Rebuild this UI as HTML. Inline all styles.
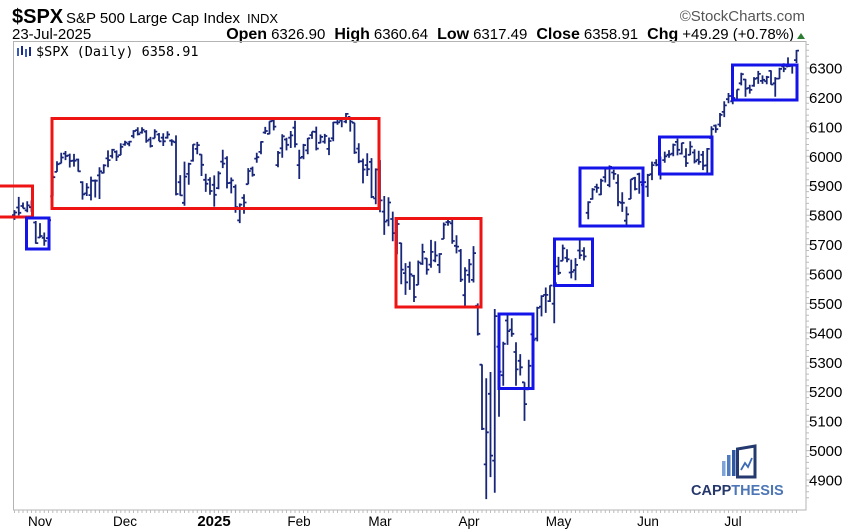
<!DOCTYPE html>
<html><head><meta charset="utf-8"><style>
html,body{margin:0;padding:0;background:#fff;}
svg{display:block;font-family:"Liberation Sans",Arial,sans-serif;}
</style></head><body>
<svg id="c" width="850" height="530" viewBox="0 0 850 530" xmlns="http://www.w3.org/2000/svg">
<rect width="850" height="530" fill="#fff"/>
<!-- header -->
<text x="12" y="23" font-size="20" font-weight="bold" fill="#000">$SPX</text>
<text x="66" y="23" font-size="15" fill="#000">S&amp;P 500 Large Cap Index</text>
<text x="247" y="23" font-size="13" fill="#000">INDX</text>
<text x="805" y="21" font-size="15" fill="#555" text-anchor="end">©StockCharts.com</text>
<text x="12" y="39" font-size="15" fill="#000">23-Jul-2025</text>
<text x="794" y="39" text-anchor="end" fill="#000"><tspan font-size="16" font-weight="bold">Open</tspan><tspan font-size="15" dx="4">6326.90</tspan><tspan font-size="16" font-weight="bold" dx="9">High</tspan><tspan font-size="15" dx="4">6360.64</tspan><tspan font-size="16" font-weight="bold" dx="9">Low</tspan><tspan font-size="15" dx="4">6317.49</tspan><tspan font-size="16" font-weight="bold" dx="9">Close</tspan><tspan font-size="15" dx="4">6358.91</tspan><tspan font-size="16" font-weight="bold" dx="9">Chg</tspan><tspan font-size="15" dx="4">+49.29 (+0.78%)</tspan></text>
<polygon points="797,39 805,39 801,33" fill="#2e7d32"/>
<!-- frame -->
<rect x="13.5" y="41.5" width="792.5" height="468.5" fill="none" stroke="#b4b4b4" stroke-width="1"/>
<g id="ticks" stroke="#bdbdbd" stroke-width="1"></g>
<!-- legend -->
<g>
<rect x="17" y="48" width="2" height="8" fill="#3a5bb5"/>
<rect x="21" y="46" width="2" height="9" fill="#1a2a80"/>
<rect x="25" y="49" width="2" height="8" fill="#3a5bb5"/>
<rect x="29" y="47" width="2" height="9" fill="#1a2a80"/>
</g>
<text x="36" y="56" font-family="'DejaVu Sans Mono','Liberation Mono',monospace" font-size="13.5" fill="#000">$SPX (Daily) 6358.91</text>
<!-- bars -->
<path id="bars" fill="none" stroke="#18267a" stroke-width="1.8" d=""/>
<!-- boxes -->
<g fill="none" stroke-width="3">
<rect x="-5" y="186" width="37.5" height="31" stroke="#ee1414"/>
<rect x="52" y="118.5" width="327" height="90" stroke="#ee1414"/>
<rect x="396" y="218.5" width="85" height="88.5" stroke="#ee1414"/>
<rect x="26.5" y="218" width="22.5" height="31" stroke="#1414e8"/>
<rect x="499" y="314" width="34" height="74.5" stroke="#1414e8"/>
<rect x="554.5" y="239" width="38" height="46.5" stroke="#1414e8"/>
<rect x="580" y="168" width="63" height="58" stroke="#1414e8"/>
<rect x="659.5" y="137" width="52.5" height="37" stroke="#1414e8"/>
<rect x="732.5" y="65" width="64.5" height="35" stroke="#1414e8"/>
</g>
<!-- y labels -->
<g id="ylab" font-size="15" fill="#000"></g>
<!-- x labels -->
<g font-size="13.5" fill="#000" text-anchor="middle">
<text x="40" y="526">Nov</text>
<text x="125" y="526">Dec</text>
<text x="214" y="526" font-weight="bold" font-size="15">2025</text>
<text x="299" y="526">Feb</text>
<text x="380" y="526">Mar</text>
<text x="469" y="526">Apr</text>
<text x="558.5" y="526">May</text>
<text x="648" y="526">Jun</text>
<text x="733" y="526">Jul</text>
</g>
<!-- logo -->
<g>
<rect x="722" y="461" width="3.5" height="15" fill="#7fa3d6"/>
<rect x="727" y="455" width="3.5" height="21" fill="#4f7cc0"/>
<rect x="732" y="450" width="3.5" height="26" fill="#2f5aa3"/>
<path d="M737.5 449 L755 446 L755 477 L737.5 477 Z" fill="none" stroke="#24396e" stroke-width="3"/>
<polyline points="741,470 745,463 748,467 752,458" fill="none" stroke="#3d6bb3" stroke-width="1.8"/>
<text x="691" y="495" font-size="14.5" font-weight="bold"><tspan fill="#26386b">CAPP</tspan><tspan fill="#4c76b6">THESIS</tspan></text>
</g>
</svg>
<script>
(function(){
var D=[
[5800,5817,5784,5809],[5826,5862,5799,5808],[5831,5843,5823,5823],[5816,5847,5810,5833],[5827,5850,5811,5814],[5775,5780,5703,5705],
[5724,5773,5723,5729],[5723,5741,5696,5713],[5722,5783,5722,5783],[5864,5936,5864,5929],[5947,5983,5947,5973],[5976,6012,5976,5996],[6009,6018,5987,6001],[6003,6009,5962,5984],[5985,6008,5965,5985],[5989,5992,5948,5949],[5912,5915,5853,5871],[5874,5909,5865,5894],[5868,5931,5850,5917],[5917,5921,5860,5917],[5935,5963,5855,5949],[5944,5973,5942,5969],[5993,6020,5963,5987],[6001,6025,5993,6022],[6015,6020,5984,5999],[6004,6044,6004,6032],
[6040,6053,6036,6047],[6042,6052,6034,6050],[6069,6089,6061,6086],[6089,6099,6071,6075],[6081,6099,6077,6090],[6084,6089,6046,6053],[6057,6066,6030,6035],[6061,6092,6061,6084],[6074,6079,6051,6051],[6063,6078,6035,6051],[6063,6085,6060,6074],[6053,6058,6036,6051],[6048,6071,5867,5872],[5912,5936,5866,5867],[5842,5982,5832,5931],[5940,5978,5903,5974],[5985,6041,5982,6040],[6025,6049,6007,6038],[6006,6007,5933,5971],[5920,5941,5879,5907],[5920,5929,5869,5882],
[5903,5935,5829,5869],[5892,5949,5888,5942],[5982,6022,5960,5975],[5993,6000,5891,5909],[5910,5928,5874,5918],[5896,5904,5808,5827],[5782,5840,5773,5836],[5859,5871,5805,5843],[5905,5960,5905,5950],[5958,5965,5931,5937],[5992,6012,5978,5997],[6015,6051,6007,6049],[6081,6100,6076,6086],[6076,6119,6075,6119],[6121,6128,6088,6101],[5970,6018,5963,6012],[6027,6075,5995,6068],[6057,6063,6020,6039],[6063,6086,6028,6071],[6097,6121,6030,6041],
[5970,6022,5923,5995],[5998,6042,5990,6038],[6020,6062,6007,6061],[6072,6084,6059,6084],[6083,6101,6020,6026],[6046,6074,6044,6066],[6050,6076,6043,6069],[6025,6064,6004,6052],[6061,6117,6051,6115],[6115,6127,6107,6115],[6121,6130,6099,6130],[6118,6147,6112,6144],[6134,6134,6084,6118],[6114,6114,6008,6013],[6026,6044,5977,5983],[5983,5992,5908,5955],[5970,6010,5933,5956],[5981,5994,5858,5862],[5857,5959,5837,5955],
[5969,5987,5810,5850],[5812,5865,5733,5778],[5782,5861,5762,5843],[5787,5812,5711,5739],[5726,5785,5667,5770],[5705,5706,5565,5615],[5603,5637,5529,5572],[5624,5642,5546,5599],[5594,5597,5505,5522],[5563,5646,5563,5639],[5635,5703,5631,5675],[5653,5654,5598,5615],[5632,5716,5621,5675],[5646,5711,5640,5663],[5631,5671,5603,5668],[5719,5775,5719,5768],[5776,5787,5764,5777],[5772,5784,5703,5712],[5696,5732,5670,5693],[5679,5685,5573,5581],[5528,5623,5489,5612],
[5597,5651,5570,5633],[5580,5695,5571,5671],[5492,5500,5391,5397],[5292,5293,5070,5074],[4953,5246,4835,5062],[5193,5267,4910,4983],[4966,5481,4857,5457],[5353,5353,5115,5268],[5256,5370,5220,5363],[5442,5460,5359,5406],[5411,5450,5387,5397],[5335,5368,5220,5276],[5305,5328,5255,5283],[5232,5232,5101,5158],[5208,5309,5208,5288],[5395,5469,5356,5376],[5381,5489,5371,5485],[5489,5528,5456,5525],[5529,5554,5468,5529],[5508,5562,5505,5561],[5499,5581,5433,5569],
[5626,5658,5597,5604],[5645,5700,5645,5687],[5655,5684,5640,5650],[5605,5649,5585,5607],[5613,5654,5579,5631],[5680,5721,5651,5664],[5679,5691,5646,5660],[5808,5847,5786,5844],[5855,5892,5853,5887],[5896,5907,5876,5893],[5870,5924,5868,5917],[5929,5959,5911,5958],[5902,5969,5895,5964],[5945,5954,5920,5940],[5910,5939,5830,5845],[5842,5878,5811,5842],[5781,5829,5768,5803],[5855,5922,5855,5922],[5926,5930,5884,5889],[5939,5944,5873,5912],[5903,5922,5843,5912],
[5897,5940,5862,5936],[5939,5982,5919,5970],[5978,5990,5966,5971],[5985,5999,5921,5939],[5987,6016,5978,6000],[6005,6021,5995,6006],[6009,6043,6000,6039],[6049,6060,6003,6022],[6009,6046,6006,6045],[5999,6027,5964,5977],[6005,6051,6004,6033],[6013,6024,5976,5983],[5988,6019,5971,5981],[6005,6018,5953,5968],[5969,6028,5944,6025],[6062,6102,6062,6092],[6104,6108,6080,6092],[6108,6147,6100,6141],[6151,6187,6133,6173],[6194,6215,6180,6205],
[6187,6211,6177,6198],[6192,6227,6188,6227],[6248,6284,6241,6279],[6261,6263,6202,6230],[6232,6243,6213,6226],[6240,6269,6236,6263],[6266,6290,6246,6280],[6256,6275,6246,6260],[6255,6273,6245,6269],[6290,6292,6243,6244],[6248,6269,6202,6264],[6264,6301,6263,6297],[6305,6316,6286,6297],[6305,6336,6303,6306],[6307,6310,6281,6310],[6327,6361,6317,6359]
];
function Y(v){return 68+(6300-v)*0.2943;}
function X(i){return 40+4.25*i;}
var s='';
for(var k=0;k<D.length;k++){
 var i=k-6,x=X(i),d=D[k];
 s+='M'+x.toFixed(2)+' '+Y(d[1]).toFixed(1)+'V'+Y(d[2]).toFixed(1);
 s+='M'+(x-2.5).toFixed(2)+' '+Y(d[0]).toFixed(1)+'H'+x.toFixed(2);
 s+='M'+x.toFixed(2)+' '+Y(d[3]).toFixed(1)+'H'+(x+2.5).toFixed(2);
}
document.getElementById('bars').setAttribute('d',s);
var NS='http://www.w3.org/2000/svg';
var yl=document.getElementById('ylab');
for(var v=4900;v<=6300;v+=100){
 var t=document.createElementNS(NS,'text');
 t.setAttribute('x','809');t.setAttribute('y',(Y(v)+5.5).toFixed(1));
 t.textContent=String(v);yl.appendChild(t);
}
var tg=document.getElementById('ticks'),ts='';
for(var v2=4840;v2<=6380;v2+=20){
 var yy=Y(v2);if(yy<42||yy>509)continue;
 var len=(v2%100===0)?5:3;
 ts+='M806 '+yy.toFixed(1)+'h'+len;
}
for(var j=-6;j<=178;j++){
 var xx=X(j);ts+='M'+xx.toFixed(1)+' 510v3';
}
var p=document.createElementNS(NS,'path');p.setAttribute('d',ts);p.setAttribute('fill','none');tg.appendChild(p);
})();
</script>
</body></html>
